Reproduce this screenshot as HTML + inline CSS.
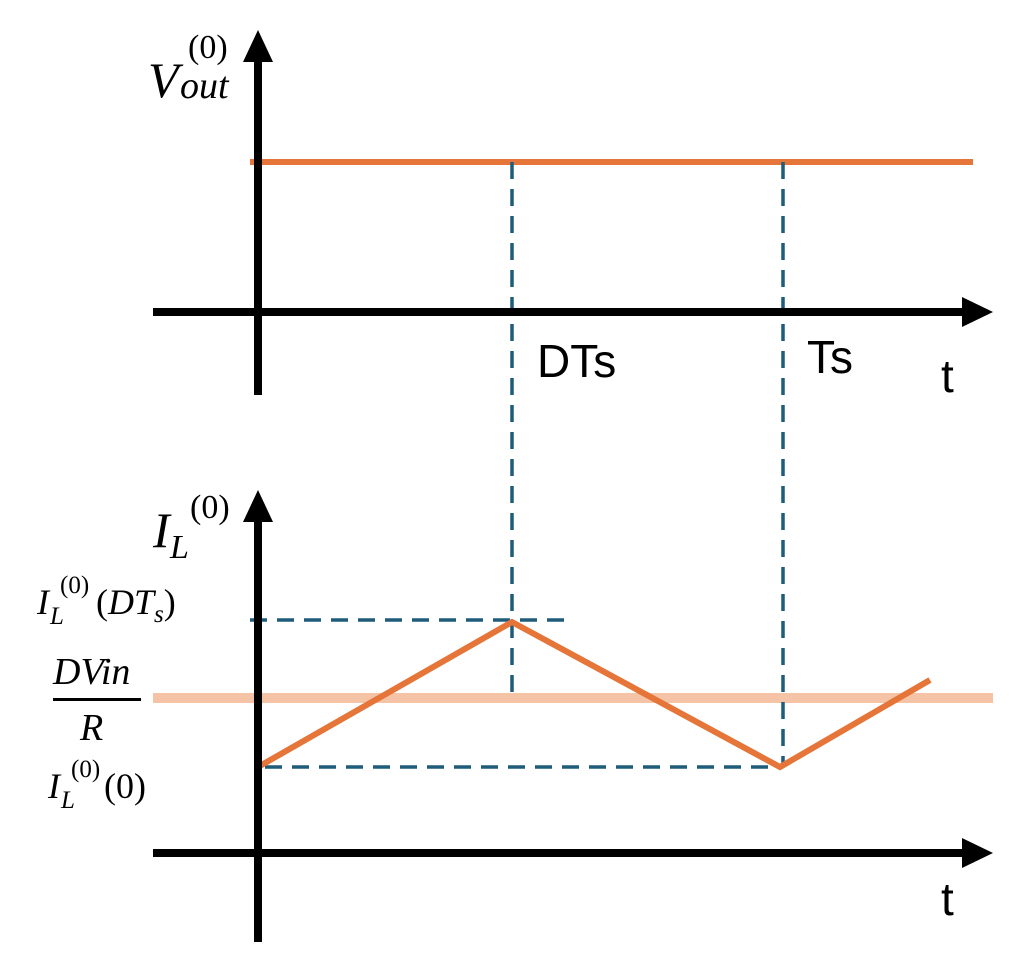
<!DOCTYPE html>
<html><head><style>body{margin:0;background:#fff}</style></head><body>
<svg width="1024" height="960" viewBox="0 0 1024 960" xmlns="http://www.w3.org/2000/svg" style="display:block">
<g font-family="Liberation Serif, serif" font-style="italic" fill="#000">
<text x="148" y="97" font-size="50">V</text>
<text x="180" y="98" font-size="38">out</text>
<text x="188" y="58" font-size="34" font-style="normal">(0)</text>
<text x="153" y="547" font-size="50">I</text>
<text x="170" y="558" font-size="34">L</text>
<text x="190" y="518" font-size="34" font-style="normal">(0)</text>
<text x="37" y="614" font-size="36">I</text>
<text x="50" y="624" font-size="25">L</text>
<text x="60" y="593" font-size="25" font-style="normal">(0)</text>
<text x="96" y="614" font-size="36"><tspan font-style="normal">(</tspan>DT<tspan font-size="25" dy="8">s</tspan><tspan font-style="normal" dy="-8">)</tspan></text>
<text x="53" y="684" font-size="38">DVin</text>
<rect x="53" y="698" width="88" height="3"/>
<text x="80" y="740" font-size="38">R</text>
<text x="48" y="798" font-size="36">I</text>
<text x="61" y="808" font-size="25">L</text>
<text x="71" y="777" font-size="25" font-style="normal">(0)</text>
<text x="104" y="798" font-size="36" font-style="normal">(0)</text>
</g>
<g font-family="Liberation Sans, sans-serif" font-size="46" fill="#000">
<text x="537" y="377">DTs</text>
<text x="807" y="373">Ts</text>
<text x="941" y="392">t</text>
<text x="941" y="915">t</text>
</g>
<line x1="153" y1="698" x2="993" y2="698" stroke="#F5C3A6" stroke-width="10"/>
<line x1="250" y1="162" x2="973" y2="162" stroke="#E57539" stroke-width="6"/>
<g stroke="#1F5C7A" stroke-width="3.5" stroke-dasharray="17 10" fill="none">
<line x1="512" y1="162" x2="512" y2="698"/>
<line x1="783" y1="162" x2="783" y2="767"/>
<line x1="250" y1="620" x2="565" y2="620"/>
<line x1="265" y1="767" x2="783" y2="767"/>
</g>
<polyline points="258,767 512,622 780,767 930,680" fill="none" stroke="#E57539" stroke-width="6"/>
<g fill="#000">
<rect x="254" y="58" width="8" height="337"/>
<polygon points="258,30 243,62 273,62"/>
<rect x="153" y="308" width="812" height="8"/>
<polygon points="993,312 962,297 962,327"/>
<rect x="254" y="518" width="8" height="424"/>
<polygon points="258,490 243,522 273,522"/>
<rect x="153" y="849" width="812" height="8"/>
<polygon points="993,853 962,838 962,868"/>
</g>
</svg>
</body></html>
